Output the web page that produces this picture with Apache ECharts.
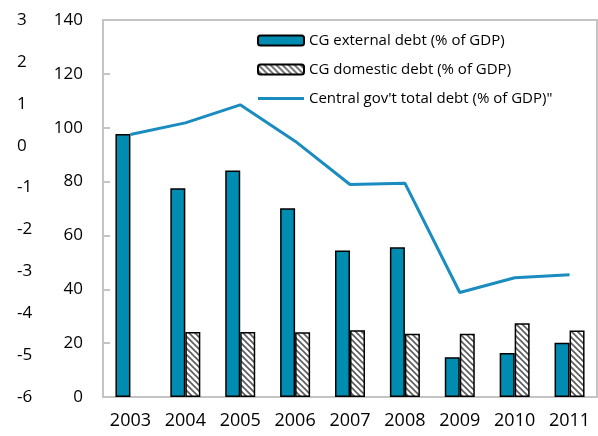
<!DOCTYPE html>
<html>
<head>
<meta charset="utf-8">
<script src="https://cdn.jsdelivr.net/npm/echarts@6/dist/echarts.min.js"></script>
<style>
  html, body { margin: 0; padding: 0; background: #fff; }
  #chart { width: 598px; height: 436px; }
</style>
</head>
<body>
<div id="chart"></div>
<script>
// Central government debt, 2003-2011
const years = ['2003', '2004', '2005', '2006', '2007', '2008', '2009', '2010', '2011'];
const externalDebt = [97.7, 77.5, 84.1, 70.1, 54.4, 55.6, 14.8, 16.3, 20.1];
const domesticDebt = [null, 24.1, 24.1, 24.0, 24.8, 23.5, 23.5, 27.4, 24.7];
const totalDebt = [97.5, 101.8, 108.5, 95.0, 78.9, 79.4, 38.8, 44.3, 45.4];

const seriesNames = [
  'CG external debt (% of GDP)',
  'CG domestic debt (% of GDP)',
  "Central gov't total debt (% of GDP)\""
];

const lineColor = '#1a8cbf';

// Diagonal hatch used for the domestic-debt bars
function makeHatch() {
  const s = 6;
  const c = document.createElement('canvas');
  c.width = s; c.height = s;
  const g = c.getContext('2d');
  g.fillStyle = '#ffffff';
  g.fillRect(0, 0, s, s);
  g.strokeStyle = '#5a5a5a';
  g.lineWidth = 1.6;
  g.beginPath();
  g.moveTo(-1, -1); g.lineTo(s + 1, s + 1);
  g.moveTo(-1, s - 1); g.lineTo(1, s + 1);
  g.moveTo(s - 1, -1); g.lineTo(s + 1, 1);
  g.stroke();
  return c;
}
const hatch = { image: makeHatch(), repeat: 'repeat' };

const font = '"Open Sans", "DejaVu Sans", sans-serif';
const axisGray = '#c4c4c4';

// Legend swatch for the line: a 3px stroke centred in a 46x10 box
const lineIcon = 'path://M0,0L46,0M0,3.5L46,3.5L46,6.5L0,6.5ZM0,10L46,10';

const chart = echarts.init(document.getElementById('chart'), null, { renderer: 'canvas' });
chart.setOption({
  animation: false,
  backgroundColor: '#ffffff',
  textStyle: { fontFamily: font },
  grid: {
    left: 103, right: 1, top: 20, bottom: 39,
    show: true, borderColor: axisGray, borderWidth: 2, backgroundColor: 'transparent'
  },
  legend: {
    orient: 'vertical',
    left: 257, top: 33, padding: 0,
    itemWidth: 46, itemHeight: 10, itemGap: 14,
    textStyle: { fontFamily: font, fontSize: 15, color: '#000' },
    data: [
      { name: seriesNames[0] },
      { name: seriesNames[1] },
      { name: seriesNames[2], icon: lineIcon, itemStyle: { color: lineColor, borderWidth: 0 } }
    ]
  },
  xAxis: {
    type: 'category',
    data: years,
    axisLine: { lineStyle: { color: axisGray, width: 2 } },
    axisTick: { inside: true, length: 6, lineStyle: { color: axisGray, width: 2 } },
    axisLabel: { color: '#000', fontSize: 18, margin: 15, fontFamily: font }
  },
  yAxis: [
    {
      type: 'value', min: 0, max: 140, interval: 20,
      axisLine: { show: true, lineStyle: { color: axisGray, width: 2 } },
      axisTick: { show: true, inside: true, length: 7, lineStyle: { color: axisGray, width: 2 } },
      splitLine: { show: false },
      axisLabel: { color: '#000', fontSize: 17, margin: 20, fontFamily: font }
    },
    {
      type: 'value', min: -6, max: 3, interval: 1, position: 'left', offset: 66,
      axisLine: { show: false }, axisTick: { show: false }, splitLine: { show: false },
      axisLabel: { color: '#000', fontSize: 17, margin: 20, align: 'left', fontFamily: font }
    }
  ],
  series: [
    {
      name: seriesNames[0], type: 'bar', yAxisIndex: 0,
      data: externalDebt, barWidth: 15, barGap: '0%',
      itemStyle: { color: '#008bb0', borderColor: '#000', borderWidth: 1.5 }
    },
    {
      name: seriesNames[1], type: 'bar', yAxisIndex: 0,
      data: domesticDebt, barWidth: 15,
      itemStyle: { color: hatch, borderColor: '#000', borderWidth: 1.5 }
    },
    {
      name: seriesNames[2], type: 'line', yAxisIndex: 0,
      data: totalDebt, symbol: 'none',
      lineStyle: { color: lineColor, width: 3 },
      itemStyle: { color: lineColor }
    }
  ]
});
</script>
</body>
</html>
